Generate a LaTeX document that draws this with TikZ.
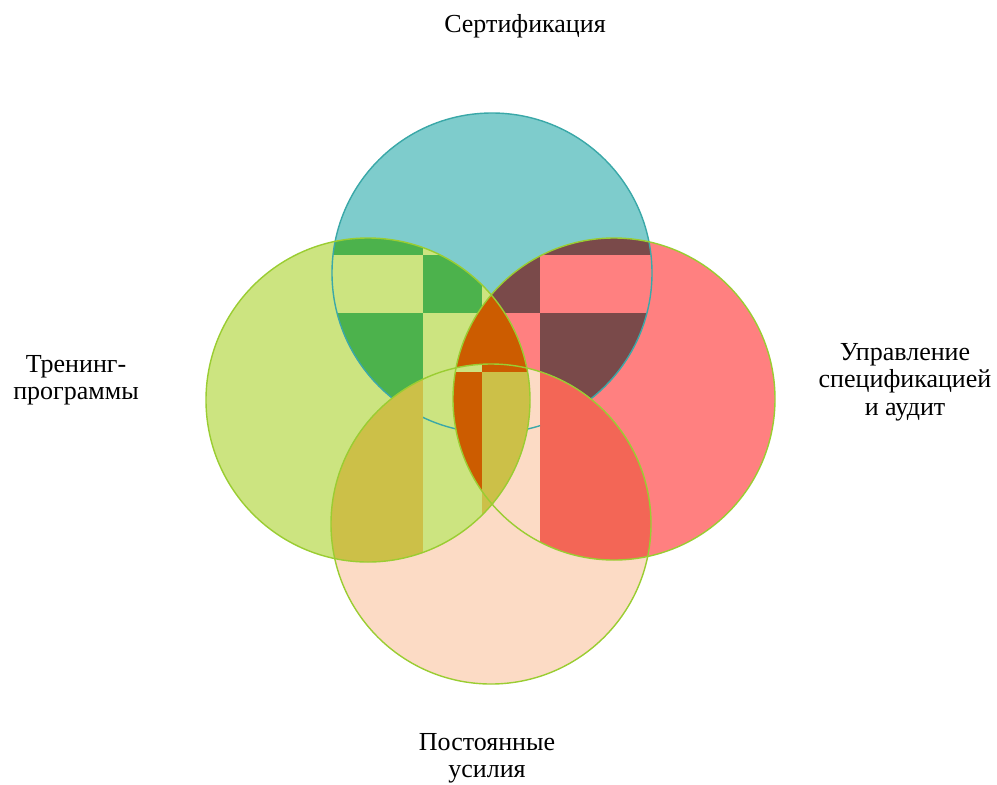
\documentclass[tikz,border=0pt]{standalone}
\usepackage{fontspec}
\setmainfont{Liberation Serif}
\definecolor{cteal}{HTML}{7ECCCC}
\definecolor{ctealline}{HTML}{3AA8A8}
\definecolor{clgreen}{HTML}{CCE480}
\definecolor{cpink}{HTML}{FF8080}
\definecolor{cpeach}{HTML}{FCDBC5}
\definecolor{cdgreen}{HTML}{4CB24C}
\definecolor{cbrown}{HTML}{7A4A4A}
\definecolor{corange}{HTML}{CC5C00}
\definecolor{colive}{HTML}{CCC048}
\definecolor{csalmon}{HTML}{F36656}
\definecolor{cygline}{HTML}{9ACD32}
\tikzset{
  lbl/.style={font=\fontsize{26}{27.5}\selectfont, inner sep=0pt, align=center, text=black},
  ygline/.style={draw=cygline, line width=1.4pt},
  tline/.style={draw=ctealline, line width=1.4pt}
}
\begin{document}
\begin{tikzpicture}[x=1pt,y=-1pt]
\useasboundingbox (0,0) rectangle (997,785);
\fill[white] (0,0) rectangle (997,785);
\coordinate (cT) at (492,273);
\coordinate (cL) at (368,400);
\coordinate (cR) at (614,399);
\coordinate (cB) at (491,524);
% base fills
\fill[cteal] (cT) circle[radius=160pt];
\fill[clgreen] (cL) circle[radius=162pt];
\fill[cpink] (cR) circle[radius=161pt];
\fill[cpeach] (cB) circle[radius=160pt];
% top & left
\begin{scope}
  \clip (cT) circle[radius=160pt];
  \clip (cL) circle[radius=162pt];
  \fill[cdgreen] (0,0) rectangle (423,255);
  \fill[cdgreen] (0,313) rectangle (423,785);
  \fill[cdgreen] (423,255) rectangle (482,313);
\end{scope}
% top & right
\begin{scope}
  \clip (cT) circle[radius=160pt];
  \clip (cR) circle[radius=161pt];
  \fill[cbrown] (482,255) rectangle (540,313);
  \fill[cbrown] (540,0) rectangle (997,255);
  \fill[cbrown] (540,313) rectangle (997,785);
\end{scope}
% left & right
\begin{scope}
  \clip (cL) circle[radius=162pt];
  \clip (cR) circle[radius=161pt];
  \fill[corange] (0,0) rectangle (997,785);
\end{scope}
% left & bottom
\begin{scope}
  \clip (cL) circle[radius=162pt];
  \clip (cB) circle[radius=160pt];
  \fill[colive] (0,0) rectangle (997,785);
  \fill[clgreen] (423,0) rectangle (482,785);
\end{scope}
% left & right & bottom
\begin{scope}
  \clip (cL) circle[radius=162pt];
  \clip (cR) circle[radius=161pt];
  \clip (cB) circle[radius=160pt];
  \fill[corange] (0,372) rectangle (482,785);
  \fill[corange] (482,0) rectangle (997,372);
\end{scope}
% right & bottom
\begin{scope}
  \clip (cR) circle[radius=161pt];
  \clip (cB) circle[radius=160pt];
  \fill[csalmon] (540,0) rectangle (997,785);
\end{scope}
% outlines
\begin{scope}[even odd rule]
  \clip (-10,-10) rectangle (1010,800) (cB) circle[radius=160pt];
  \draw[tline] (cT) circle[radius=160pt];
\end{scope}
\begin{scope}
  \clip (423,360) rectangle (456,450);
  \draw[tline] (cT) circle[radius=160pt];
\end{scope}
\begin{scope}
  \clip (527,360) rectangle (540,450);
  \draw[tline] (cT) circle[radius=160pt];
\end{scope}
\draw[ygline] (cL) circle[radius=162pt];
\draw[ygline] (cR) circle[radius=161pt];
\draw[ygline] (cB) circle[radius=160pt];
% labels
\node[lbl, anchor=base] (lcert) at (525,32) {Сертификация};
\node[lbl, anchor=north] (ltrain) at (76,355) {Тренинг-\\программы};
\node[lbl, anchor=north] (laudit) at (905,343) {Управление\\спецификацией\\и аудит};
\node[lbl, anchor=north] (leffort) at (487,733) {Постоянные\\усилия};
\end{tikzpicture}
\end{document}
